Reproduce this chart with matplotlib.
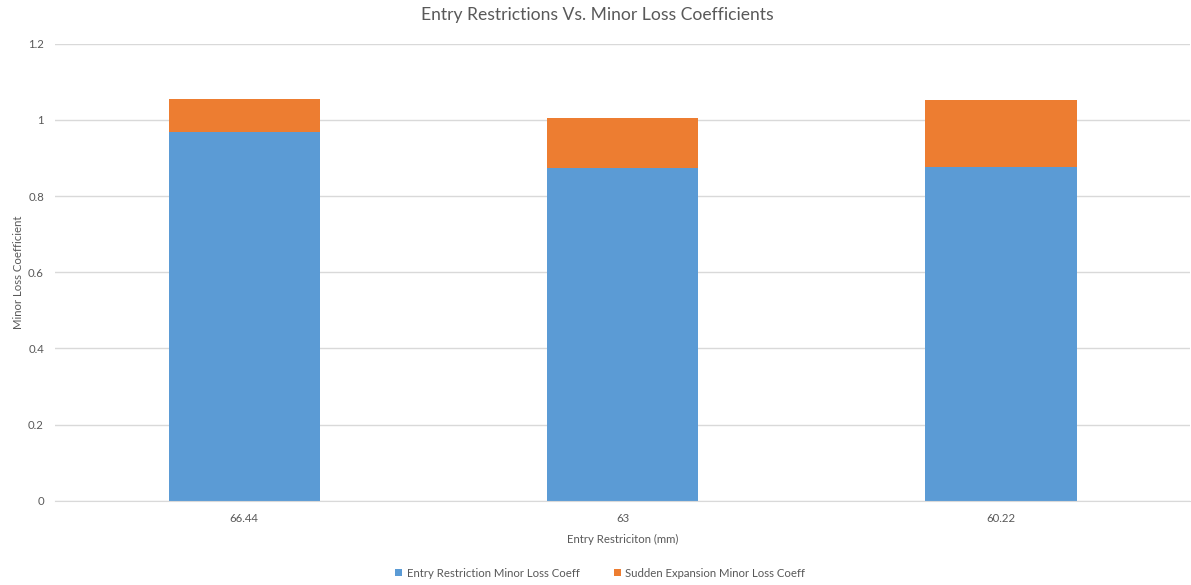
import matplotlib
matplotlib.use("Agg")
import matplotlib.pyplot as plt
import numpy as np

categories = ["66.44", "63", "60.22"]
entry_coeff = [0.967, 0.874, 0.876]
expansion_coeff = [0.088, 0.132, 0.176]
series_names = ["Entry Restriction Minor Loss Coeff", "Sudden Expansion Minor Loss Coeff"]

plt.rcParams["font.family"] = ["Lato", "DejaVu Sans"]
text_color = "#595959"

fig = plt.figure(figsize=(11.91, 5.85), dpi=100)
ax = fig.add_axes([0.0462, 0.1441, 0.9530, 0.7812])

x = np.arange(len(categories))
b1 = ax.bar(x, entry_coeff, width=0.4, color="#5B9BD5", zorder=2)
b2 = ax.bar(x, expansion_coeff, width=0.4, bottom=entry_coeff, color="#ED7D31", zorder=2)

ax.set_xlim(-0.5, len(categories) - 0.5)
ax.set_ylim(0, 1.2)
ax.set_yticks(np.arange(0, 1.21, 0.2))
ax.set_yticklabels(["0", "0.2", "0.4", "0.6", "0.8", "1", "1.2"])
ax.set_xticks(x)
ax.set_xticklabels(categories)

ax.grid(axis="y", color="#D9D9D9", linewidth=1, zorder=0)
for s in ["top", "right", "left"]:
    ax.spines[s].set_visible(False)
ax.spines["bottom"].set_color("#D9D9D9")
ax.tick_params(axis="both", length=0, colors=text_color, labelsize=8.2)
ax.tick_params(axis="y", pad=8)
ax.tick_params(axis="x", pad=9)

# Title centred on the figure rather than the plot area
fig.text(0.5015, 0.975, "Entry Restrictions Vs. Minor Loss Coefficients",
         fontsize=12.6, color=text_color, ha="center", va="center")
ax.set_xlabel("Entry Restriciton (mm)", fontsize=8.2, color=text_color, labelpad=7)
ax.set_ylabel("Minor Loss Coefficient", fontsize=8.2, color=text_color, labelpad=3)

fig.legend([b1, b2], series_names, loc="center", bbox_to_anchor=(0.504, 0.02),
           ncol=2, frameon=False, fontsize=8.2, labelcolor=text_color,
           handlelength=0.6, handleheight=0.6, handletextpad=0.4, columnspacing=3)

fig.savefig("out.png", dpi=100)
